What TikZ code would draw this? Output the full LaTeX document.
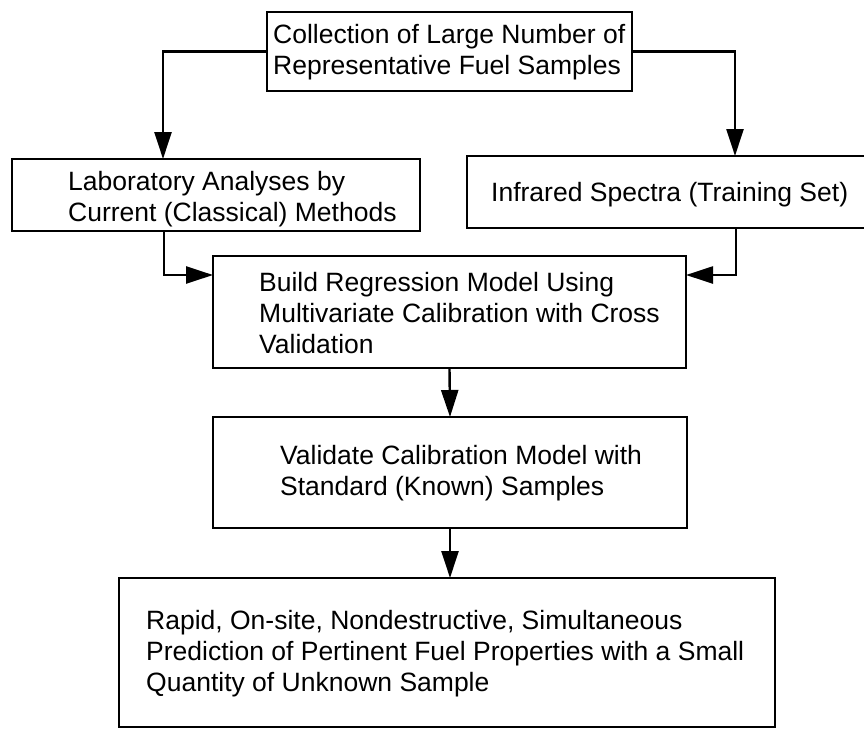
\documentclass[tikz,border=0pt]{standalone}
\usepackage{fontspec}
\setmainfont{Liberation Sans}
\usetikzlibrary{arrows.meta}
\tikzset{
  boxnode/.style={draw=black, line width=2.4pt, rectangle, inner sep=0pt, outer sep=0pt},
  txt/.style={anchor=west, align=left, inner sep=0pt, font=\fontsize{26.5}{31}\selectfont},
  arr/.style={draw=black, line width=2.4pt, -{Triangle[length=27pt, width=17pt]}}
}
\begin{document}
\begin{tikzpicture}[x=1pt, y=-1pt]
\clip (0,0) rectangle (864,729);
\useasboundingbox (0,0) rectangle (864,729);
\fill[white] (0,0) rectangle (864,729);

% boxes
\node[boxnode, minimum width=365pt, minimum height=79pt] (top) at (449.5,51.5) {};
\node[boxnode, minimum width=408pt, minimum height=72pt] (left) at (216,195) {};
\node[boxnode, minimum width=413pt, minimum height=72pt] (right) at (673.5,192) {};
\node[boxnode, minimum width=473pt, minimum height=112pt] (mid) at (449.5,312) {};
\node[boxnode, minimum width=474pt, minimum height=111pt] (val) at (450,472.5) {};
\node[boxnode, minimum width=656pt, minimum height=149pt] (bot) at (447,652.5) {};

% texts
\node[txt] (ttop) at (273,52) {Collection of Large Number of\\Representative Fuel Samples};
\node[txt] (tleft) at (68,199) {Laboratory Analyses by\\Current (Classical) Methods};
\node[txt] (tright) at (491,195) {Infrared Spectra (Training Set)};
\node[txt] (tmid) at (259,313) {Build Regression Model Using\\Multivariate Calibration with Cross\\Validation};
\node[txt] (tval) at (280,473) {Validate Calibration Model with\\Standard (Known) Samples};
\node[txt] (tbot) at (146,654) {Rapid, On-site, Nondestructive, Simultaneous\\Prediction of Pertinent Fuel Properties with a Small\\Quantity of Unknown Sample};

% connectors
\draw[arr] (top.west) -| ([xshift=-53pt]left.north);
\draw[arr] (top.east) -| ([xshift=61.5pt]right.north);
\draw[arr] ([xshift=-52pt]left.south) |- ([yshift=37pt]mid.west);
\draw[arr] ([xshift=62.5pt]right.south) |- ([yshift=37pt]mid.east);
\draw[arr] (mid.south) -- (val.north);
\draw[arr] (val.south) -- (val.south |- bot.north);
\end{tikzpicture}
\end{document}
